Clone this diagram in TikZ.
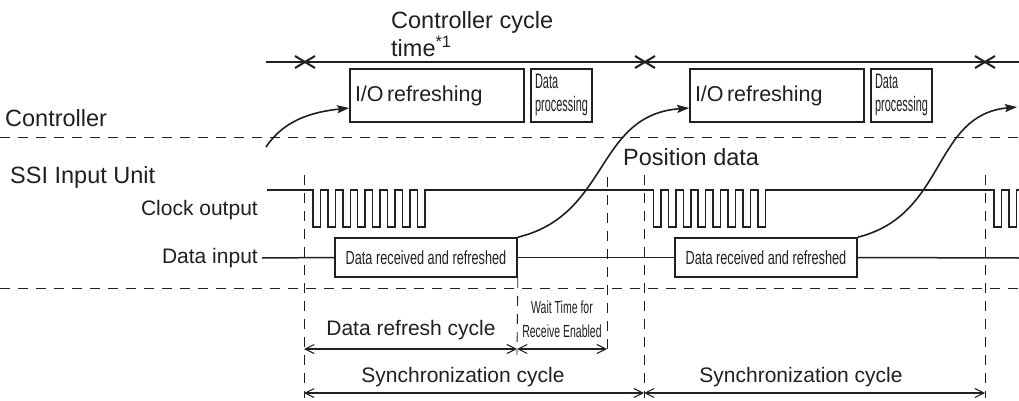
\documentclass[tikz,border=0pt]{standalone}
\usepackage{fontspec}
\setmainfont{Liberation Sans}
\usetikzlibrary{arrows.meta,calc}
\definecolor{ink}{HTML}{231F20}
\newcommand{\fsz}[2]{\fontsize{#1pt}{#2pt}\selectfont}
\begin{document}
\begin{tikzpicture}[x=1pt,y=-1pt,
  box/.style={draw=ink, line width=1.6pt, inner sep=0pt, text=ink},
  lbl/.style={inner sep=0pt, text=ink},
  dashline/.style={draw=ink, line width=0.9pt, dash pattern=on 10pt off 8pt},
  dim/.style={draw=ink, line width=1.1pt, {Straight Barb[length=9pt,width=9pt]}-{Straight Barb[length=9pt,width=9pt]}},
  sig/.style={draw=ink, line width=1.5pt},
  flow/.style={draw=ink, line width=1.6pt, -{Stealth[length=12pt,width=8pt,inset=2pt]}},
  tline/.style={draw=ink, line width=2pt}]
\fill[white] (0,0) rectangle (1019,401);
\useasboundingbox (0,0) rectangle (1019,401);
\begin{scope}
\clip (0,0) rectangle (1019,401);
% title
\node[lbl, anchor=base west] (ct) at (391,29) {\fsz{23.5}{24}\begin{tabular}[t]{@{}l@{}}Controller cycle\\time\textsuperscript{*1}\end{tabular}};
% timeline
\coordinate (tl0) at (266,62);
\coordinate (tl1) at (1019,62);
\draw[tline] (tl0) -- (tl1);
\foreach \x in {305,645,985} {
  \draw[tline] ({\x-10},56) -- ({\x+10},68) ({\x-10},68) -- ({\x+10},56);
}
% controller boxes
\node[box, minimum width=174pt, minimum height=53pt, text width=164pt, align=left, inner xsep=5pt] (io1) at (437,95.5) {\fsz{21.5}{24}I/O refreshing};
\node[box, minimum width=61pt, minimum height=53pt] (dp1) at (561.5,95.5) {\scalebox{0.52}[1]{\fsz{21}{23}\begin{tabular}{@{}l@{}}Data\\processing\end{tabular}}};
\node[box, minimum width=174pt, minimum height=53pt, text width=164pt, align=left, inner xsep=5pt] (io2) at (777,95.5) {\fsz{21.5}{24}I/O refreshing};
\node[box, minimum width=61pt, minimum height=53pt] (dp2) at (901.5,95.5) {\scalebox{0.52}[1]{\fsz{21}{23}\begin{tabular}{@{}l@{}}Data\\processing\end{tabular}}};
% left labels
\node[lbl, anchor=base west] (lctrl) at (5,126) {\fsz{23.5}{26}Controller};
\node[lbl, anchor=base west] (lssi) at (10,183) {\fsz{23.5}{26}SSI Input Unit};
\node[lbl, anchor=base east] (lclk) at (258,215) {\fsz{21}{24}Clock output};
\node[lbl, anchor=base east] (ldat) at (258,263) {\fsz{21}{24}Data input};
\node[lbl, anchor=base west] (lpos) at (623,165) {\fsz{23.5}{26}Position data};
% horizontal dashed separators
\draw[dashline] (0,137) -- (1019,137);
\draw[dashline] (0,288) -- (1019,288);
% vertical dashed lines
\draw[dashline] (304,175) -- (304,398);
\draw[dashline] (644,175) -- (644,398);
\draw[dashline] (985,175) -- (985,398);
\draw[dashline] (607,177) -- (607,355);
% clock
\draw[sig] (267,190)
  foreach \c in {0,340.5,681} {
    foreach \i in {0,...,7} {
      -- ({313+\c+14.9*\i},190) -- ({313+\c+14.9*\i},227) -- ({320.5+\c+14.9*\i},227) -- ({320.5+\c+14.9*\i},190)
    }
  } -- (1030,190);
% data boxes
\node[box, minimum width=182pt, minimum height=39pt] (db1) at (426,257.5) {\scalebox{0.67}[1]{\fsz{19}{21}Data received and refreshed}};
\node[box, minimum width=182pt, minimum height=39pt] (db2) at (766,257.5) {\scalebox{0.67}[1]{\fsz{19}{21}Data received and refreshed}};
\coordinate (d0) at (262,258);
\coordinate (d3) at (1019,258);
\draw[sig] (d0) -- (db1.west);
\draw[sig] (db1.east) -- (db2.west);
\draw[sig] (db2.east) -- (d3);
\draw[dashline] (db1.south east) -- (517,355);
% flow curves
\coordinate (c0) at (266,147);
\coordinate (c2) at (1017,107);
\draw[flow] (c0) .. controls (284,120) and (312,112) .. ($(io1.west)+(0,12.5)$);
\draw[flow] (db1.north east) .. controls (610,215) and (595,115) .. ($(io2.west)+(0,12.5)$);
\draw[flow] (db2.north east) .. controls (947,215) and (932,115) .. (c2);
% dimension arrows
\coordinate (a1) at (304,349);
\coordinate (a2) at (517,349);
\coordinate (a3) at (607,349);
\coordinate (s1) at (304,393);
\coordinate (s2) at (644,393);
\coordinate (s3) at (985,393);
\draw[dim] (a1) -- (a2);
\draw[dim] (a2) -- (a3);
\draw[dim] (s1) -- (s2);
\draw[dim] (s2) -- (s3);
\node[lbl, anchor=base] (tdr) at (411,335) {\fsz{21}{24}Data refresh cycle};
\node[lbl, anchor=base] (tw1) at (562,313) {\scalebox{0.6}[1]{\fsz{17.5}{20}Wait Time for}};
\node[lbl, anchor=base] (tw2) at (562,337) {\scalebox{0.6}[1]{\fsz{17.5}{20}Receive Enabled}};
\node[lbl, anchor=base] (ts1) at (463,382) {\fsz{21}{24}Synchronization cycle};
\node[lbl, anchor=base] (ts2) at (801,382) {\fsz{21}{24}Synchronization cycle};
\end{scope}
\end{tikzpicture}
\end{document}
